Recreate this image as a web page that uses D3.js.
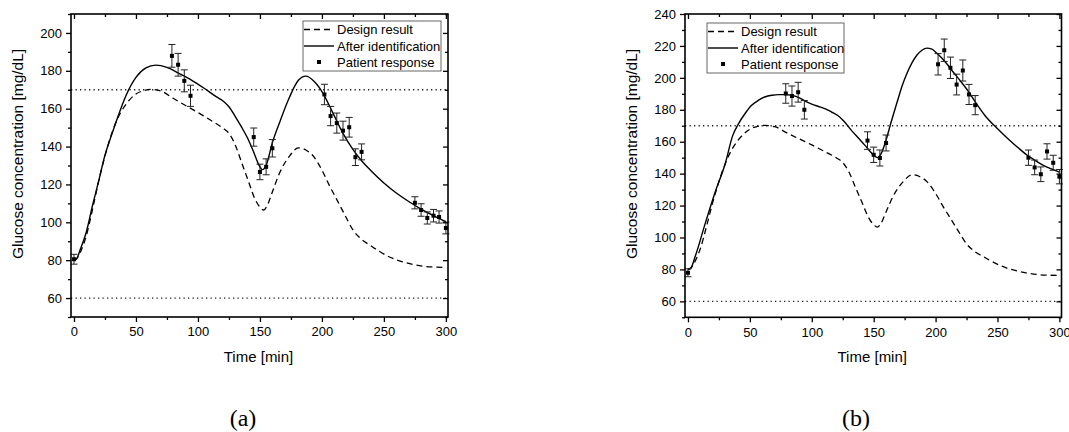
<!DOCTYPE html>
<html><head><meta charset="utf-8">
<script src="https://cdn.jsdelivr.net/npm/d3@7"></script>
<style>
body{margin:0;background:#fff}
svg{display:block}
text{font-family:"Liberation Sans",Arial,sans-serif;fill:#000}
</style>
</head><body><svg id="c" width="1069" height="432"></svg>
<script>
// ---------- data ----------
const xTicks = [0, 50, 100, 150, 200, 250, 300];
const xMinorTicks = [25, 75, 125, 175, 225, 275];
const leftYTicks = [60, 80, 100, 120, 140, 160, 180, 200];
const leftYMinor = [50, 70, 90, 110, 130, 150, 170, 190, 210];
const rightYTicks = [60, 80, 100, 120, 140, 160, 180, 200, 220, 240];
const rightYMinor = [50, 70, 90, 110, 130, 150, 170, 190, 210, 230];
const limitLines = [60, 170];
const legendLabels = ["Design result", "After identification", "Patient response"];
const captions = ["(a)", "(b)"];

// design result (same in both panels)
const designTime  = [0, 3, 6, 10, 15, 20, 25, 30, 35, 40, 45, 50, 55, 62, 70, 80, 90, 100, 110, 120, 125, 130, 135, 140, 146, 150, 153, 156, 160, 166, 174, 181, 187, 193, 201, 206, 212, 218, 225, 232, 239, 245, 252, 260, 266, 273, 282, 291, 300];
const designValue = [80, 81.5, 85.5, 93, 107, 122, 135, 146, 154.5, 160.5, 164.8, 167.8, 169.3, 170.2, 169.4, 165.5, 161.7, 158, 154, 149.8, 147, 141, 132, 123, 112.3, 108, 106.5, 109, 116, 126.3, 135.1, 139.3, 138.2, 135, 126.3, 119.5, 112, 104.5, 96, 91, 87.8, 85.2, 82.5, 80.2, 79, 77.8, 76.8, 76.4, 76.2];

// panel (a): after identification
const fitATime  = [0, 2, 5, 10, 15, 20, 25, 30, 35, 42, 50, 58, 66, 75, 85, 95, 105, 115, 120, 125, 130, 135, 140, 145, 149, 152, 155, 160, 166, 174, 181, 187, 194, 201, 209, 217, 225, 232, 240, 250, 260, 270, 280, 290, 300];
const fitAValue = [80, 80.6, 85.5, 95, 109, 122, 135.5, 145.5, 155, 167, 176.5, 181.5, 183, 181.8, 178.5, 175, 170.8, 166.2, 164.2, 161, 156, 150.5, 144.5, 137, 130.5, 127.8, 130, 142, 153, 166.3, 175, 177.2, 174.2, 168, 157.5, 147, 138.5, 132.5, 127, 120.8, 115.5, 111, 107, 103.5, 100.3];
// panel (a): patient response
const ptsATime  = [0, 79, 84, 89, 94, 145, 150, 155, 160, 202, 207, 212, 217, 222, 227, 232, 275, 280, 285, 290, 294.5, 300];
const ptsAValue = [80.5, 187.9, 183.2, 174.7, 166.8, 145, 126.6, 129.3, 139.1, 167.5, 156.1, 152.4, 148.4, 150.2, 134.4, 137.2, 110.3, 106.5, 102.3, 103.5, 102.8, 97];
const ptsAErr   = [2.6, 6, 6, 5.8, 5.6, 4.8, 4.1, 4.2, 4.6, 5.4, 5.1, 5.3, 5, 5.2, 4.4, 4.2, 3.2, 3.3, 3.2, 3.3, 3.2, 3.1];

// panel (b): after identification
const fitBTime  = [0, 2, 6, 14, 22, 30, 36, 41, 46, 51, 57, 62, 68, 73, 79, 84, 90, 95, 100, 105, 111, 116, 121, 126, 132, 138, 143, 147, 150, 153, 156, 160, 164, 169, 173, 177, 181, 185, 189, 193, 197, 201, 205, 209, 214, 220, 226, 233, 240, 247, 254, 260, 267, 274, 280, 287, 294, 300];
const fitBValue = [80, 80.5, 88.5, 109, 128.5, 146, 163.5, 171.5, 177.5, 182.5, 186, 188, 189.1, 189.5, 189.5, 189, 187.5, 185.3, 183.6, 182.2, 180.6, 178.6, 176.4, 172.8, 167.1, 162, 157.7, 154, 151.5, 150, 152.5, 161, 172, 185, 195, 203, 209.5, 214.3, 217.3, 218.6, 218, 215.4, 212.4, 208.8, 203.8, 198.1, 192, 183.8, 176.3, 170.4, 165.2, 160.8, 156, 151.5, 148.5, 145.2, 142.8, 141];
// panel (b): patient response
const ptsBTime  = [0, 79, 84, 89, 94, 145, 150, 155, 160, 202, 207, 212, 217, 222, 227, 232, 275, 280, 285, 290, 295, 300];
const ptsBValue = [77.9, 190.2, 188.6, 191, 180, 160.7, 151.8, 149.8, 159.2, 208.5, 217.3, 206.3, 195.8, 204.6, 189.6, 182.9, 150, 143.9, 139.6, 153.9, 146.8, 138.1];
const ptsBErr   = [2.5, 6.1, 6.3, 6.2, 5.8, 5.5, 4.8, 5, 5, 6.7, 7, 6.7, 6.5, 6.6, 6.3, 6, 4.8, 4.6, 4.6, 4.8, 4.7, 4.5];

// ---------- drawing ----------
const svg = d3.select("#c");

function panel(cfg) {
  const g = svg.append("g");
  const x = d3.scaleLinear().domain([-2.4, 301.7]).range(cfg.xr);
  const y = d3.scaleLinear().domain(cfg.yd).range(cfg.yr);
  const [x0, x1] = cfg.xr, [y0, y1] = cfg.yr; // y0 bottom, y1 top

  // limit lines
  g.selectAll(".lim").data(limitLines).join("line")
    .attr("x1", x0).attr("x2", x1)
    .attr("y1", d => y(d)).attr("y2", d => y(d))
    .attr("stroke", "#222").attr("stroke-width", 1.3)
    .attr("stroke-dasharray", "1.3,3.2");

  const line = d3.line().curve(d3.curveMonotoneX).x(d => x(d[0])).y(d => y(d[1]));
  g.append("path").datum(designTime.map((t, i) => [t, designValue[i]]))
    .attr("d", line).attr("fill", "none").attr("stroke", "#000")
    .attr("stroke-width", 1.3).attr("stroke-dasharray", "6,4");
  g.append("path").datum(cfg.fitT.map((t, i) => [t, cfg.fitV[i]]))
    .attr("d", line).attr("fill", "none").attr("stroke", "#000")
    .attr("stroke-width", 1.4);

  // error bars + points
  const pts = cfg.pT.map((t, i) => ({t, v: cfg.pV[i], e: cfg.pE[i]}));
  const eb = g.selectAll(".eb").data(pts).join("g").attr("stroke", "#222").attr("stroke-width", 1);
  eb.append("line").attr("x1", d => x(d.t)).attr("x2", d => x(d.t))
    .attr("y1", d => y(d.v - d.e)).attr("y2", d => y(d.v + d.e));
  eb.append("line").attr("x1", d => x(d.t) - 3.5).attr("x2", d => x(d.t) + 3.5)
    .attr("y1", d => y(d.v + d.e)).attr("y2", d => y(d.v + d.e));
  eb.append("line").attr("x1", d => x(d.t) - 3.5).attr("x2", d => x(d.t) + 3.5)
    .attr("y1", d => y(d.v - d.e)).attr("y2", d => y(d.v - d.e));
  g.selectAll(".pt").data(pts).join("rect")
    .attr("x", d => x(d.t) - 2).attr("y", d => y(d.v) - 2)
    .attr("width", 4).attr("height", 4).attr("fill", "#000");

  // axes
  const styleAxis = a => {
    a.select(".domain").remove();
    a.selectAll(".tick line").attr("stroke", "#000").attr("stroke-width", 1.3);
    a.selectAll(".tick text").attr("font-size", "13px").attr("font-family", "Liberation Sans, Arial, sans-serif").attr("fill", "#000");
  };
  g.append("g").attr("transform", `translate(0,${y0})`)
    .call(d3.axisBottom(x).tickValues(xTicks).tickSize(5).tickPadding(5).tickFormat(d3.format("d"))).call(styleAxis);
  g.append("g").attr("transform", `translate(0,${y0})`)
    .call(d3.axisBottom(x).tickValues(xMinorTicks).tickSize(3).tickFormat("")).call(styleAxis);
  g.append("g").attr("transform", `translate(0,${y1})`)
    .call(d3.axisBottom(x).tickValues(xTicks).tickSize(5).tickFormat("")).call(styleAxis);
  g.append("g").attr("transform", `translate(0,${y1})`)
    .call(d3.axisBottom(x).tickValues(xMinorTicks).tickSize(3).tickFormat("")).call(styleAxis);
  g.append("g").attr("transform", `translate(${x0},0)`)
    .call(d3.axisLeft(y).tickValues(cfg.yT).tickSize(5).tickPadding(4).tickFormat(d3.format("d"))).call(styleAxis);
  g.append("g").attr("transform", `translate(${x0},0)`)
    .call(d3.axisLeft(y).tickValues(cfg.yM).tickSize(3).tickFormat("")).call(styleAxis);
  g.append("g").attr("transform", `translate(${x1},0)`)
    .call(d3.axisLeft(y).tickValues(cfg.yT).tickSize(5).tickFormat("")).call(styleAxis);
  g.append("g").attr("transform", `translate(${x1},0)`)
    .call(d3.axisLeft(y).tickValues(cfg.yM).tickSize(3).tickFormat("")).call(styleAxis);

  g.append("rect").attr("x", x0).attr("y", y1).attr("width", x1 - x0).attr("height", y0 - y1)
    .attr("fill", "none").attr("stroke", "#000").attr("stroke-width", 1.6);

  // axis titles
  g.append("text").attr("x", (x0 + x1) / 2 - 1).attr("y", 362).attr("text-anchor", "middle")
    .attr("font-size", "15px").text("Time [min]");
  g.append("text").attr("transform", `translate(${cfg.ylx},154) rotate(-90)`)
    .attr("text-anchor", "middle").attr("font-size", "15.5px").text("Glucose concentration [mg/dL]");

  // legend
  const L = cfg.leg;
  const lg = g.append("g").attr("transform", `translate(${L[0]},${L[1]})`);
  lg.append("rect").attr("x", 0).attr("y", 0).attr("width", L[2]).attr("height", 50)
    .attr("fill", "#fff").attr("stroke", "#666").attr("stroke-width", 1);
  const rows = [8.5, 25, 41];
  lg.append("line").attr("x1", 1).attr("x2", 31).attr("y1", rows[0]).attr("y2", rows[0])
    .attr("stroke", "#000").attr("stroke-width", 1.3).attr("stroke-dasharray", "6,4");
  lg.append("line").attr("x1", 1).attr("x2", 31).attr("y1", rows[1]).attr("y2", rows[1])
    .attr("stroke", "#000").attr("stroke-width", 1.4);
  lg.append("rect").attr("x", 14).attr("y", rows[2] - 2).attr("width", 4).attr("height", 4).attr("fill", "#000");
  lg.selectAll(".lt").data(legendLabels).join("text")
    .attr("x", 34).attr("y", (d, i) => rows[i] + 4.6).attr("font-size", "13px").text(d => d);

  // caption
  svg.append("text").attr("x", cfg.cap[0]).attr("y", 426).attr("text-anchor", "middle")
    .style("font-family", "'Liberation Serif', 'DejaVu Serif', serif").attr("font-size", "24px").text(cfg.cap[1]);
}

panel({xr: [71, 448], yr: [317, 14], yd: [50, 210], yT: leftYTicks, yM: leftYMinor,
  fitT: fitATime, fitV: fitAValue, pT: ptsATime, pV: ptsAValue, pE: ptsAErr,
  leg: [303, 21, 138], ylx: 23, cap: [243, captions[0]]});
panel({xr: [685, 1061.5], yr: [317.3, 14], yd: [50, 240], yT: rightYTicks, yM: rightYMinor,
  fitT: fitBTime, fitV: fitBValue, pT: ptsBTime, pV: ptsBValue, pE: ptsBErr,
  leg: [707, 23, 137], ylx: 637, cap: [856, captions[1]]});
</script>
</body></html>
